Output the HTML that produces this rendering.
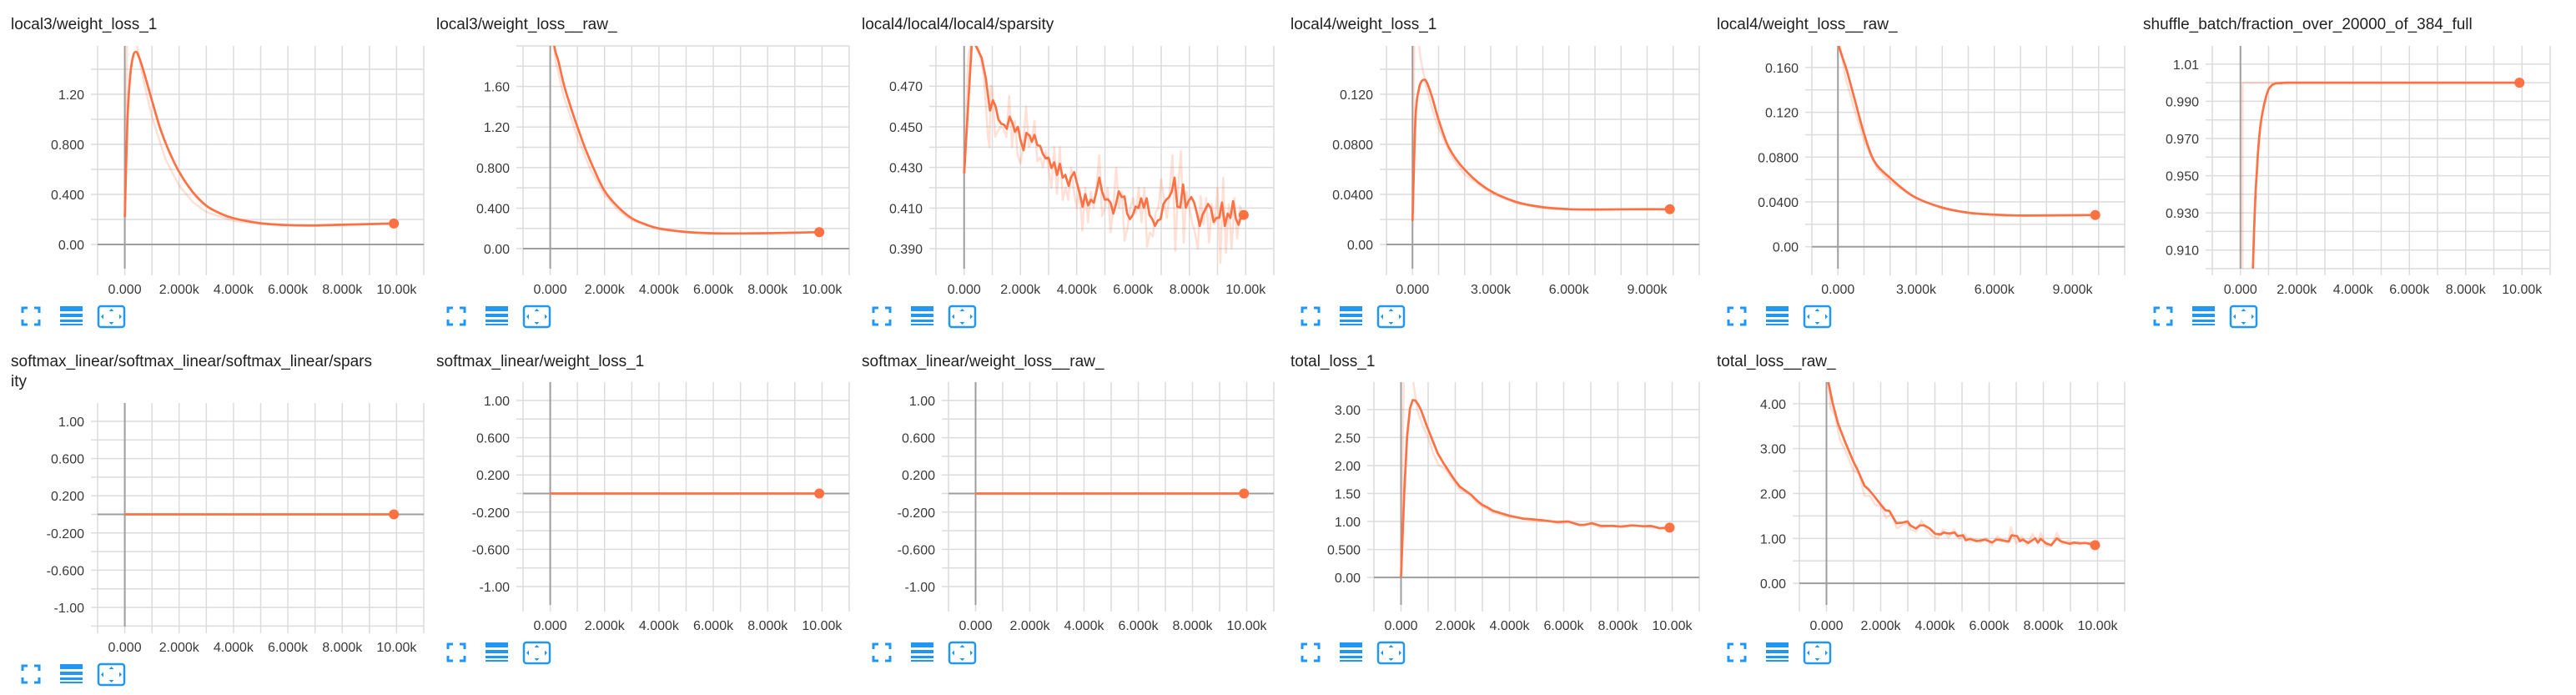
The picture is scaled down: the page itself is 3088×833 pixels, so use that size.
<!DOCTYPE html>
<html><head><meta charset="utf-8">
<style>
html,body{margin:0;padding:0;background:#fff;width:3088px;height:833px;overflow:hidden;}
svg{display:block;font-family:"Liberation Sans",Arial,sans-serif;}
</style></head>
<body>
<svg id="root" width="3088" height="833" viewBox="0 0 3088 833" xmlns="http://www.w3.org/2000/svg"></svg>
<script>
// ---------- data ----------
const xTicks2k = [0,2000,4000,6000,8000,10000];
const xLabels2k = ["0.000","2.000k","4.000k","6.000k","8.000k","10.00k"];
const xTicks3k = [0,3000,6000,9000];
const xLabels3k = ["0.000","3.000k","6.000k","9.000k"];

const aYTicks = [0,0.4,0.8,1.2];
const aYLabels = ["0.00","0.400","0.800","1.20"];
const aSmooth = [[0,0.22],[100,1.0],[200,1.35],[300,1.5],[400,1.54],[500,1.51],[700,1.38],[1000,1.15],[1300,0.93],[1600,0.76],[2000,0.58],[2500,0.42],[3000,0.31],[3500,0.25],[4000,0.21],[5000,0.17],[6000,0.155],[7000,0.152],[8000,0.158],[9000,0.163],[9900,0.168]];
const aRaw = [[0,0.22],[100,1.9],[400,1.65],[700,1.3],[1000,1.02],[1500,0.68],[2000,0.47],[2500,0.34],[3000,0.26],[4000,0.19],[5000,0.165],[6000,0.155],[8000,0.16],[9900,0.17]];

const bYTicks = [0,0.4,0.8,1.2,1.6];
const bYLabels = ["0.00","0.400","0.800","1.20","1.60"];
const bSmooth = [[0,2.6],[150,2.0],[300,1.85],[500,1.62],[750,1.4],[1000,1.2],[1300,0.98],[1600,0.79],[2000,0.57],[2500,0.41],[3000,0.3],[3500,0.24],[4000,0.2],[5000,0.165],[6000,0.152],[7000,0.15],[8000,0.153],[9000,0.158],[9900,0.163]];
const bRaw = [[0,2.6],[200,1.85],[500,1.5],[1000,1.1],[1500,0.77],[2000,0.53],[2500,0.38],[3000,0.28],[4000,0.19],[5000,0.16],[6000,0.15],[8000,0.153],[9900,0.163]];

const cYTicks = [0.39,0.41,0.43,0.45,0.47];
const cYLabels = ["0.390","0.410","0.430","0.450","0.470"];
const cSmooth = [[0,0.427],[280,0.493],[425,0.4896],[620,0.484],[770,0.474],[870,0.463],[920,0.458],[1020,0.463],[1120,0.460],[1220,0.4535],[1320,0.4515],[1420,0.451],[1515,0.449],[1615,0.455],[1710,0.452],[1810,0.4475],[1910,0.450],[2010,0.443],[2110,0.4385],[2210,0.447],[2330,0.4456],[2405,0.4426],[2500,0.446],[2600,0.441],[2700,0.4406],[2800,0.4365],[2900,0.4345],[3000,0.4348],[3100,0.4297],[3200,0.4325],[3300,0.4263],[3400,0.4318],[3500,0.425],[3595,0.4263],[3715,0.4209],[3790,0.425],[3910,0.4277],[4010,0.4222],[4110,0.4168],[4210,0.4107],[4305,0.4168],[4405,0.4113],[4505,0.4141],[4605,0.4127],[4700,0.4182],[4800,0.425],[4900,0.4182],[5000,0.4141],[5100,0.4144],[5200,0.4127],[5300,0.4073],[5395,0.412],[5495,0.4182],[5595,0.4154],[5695,0.4157],[5790,0.4073],[5890,0.4046],[5990,0.4066],[6090,0.4107],[6190,0.41],[6285,0.4148],[6385,0.4102],[6485,0.4148],[6585,0.4066],[6685,0.4046],[6780,0.4012],[6880,0.4039],[6980,0.4046],[7080,0.412],[7180,0.4141],[7280,0.4154],[7375,0.4182],[7475,0.425],[7575,0.4107],[7675,0.4102],[7775,0.4216],[7875,0.4102],[7970,0.4134],[8070,0.4154],[8170,0.4127],[8270,0.4073],[8370,0.4012],[8465,0.4066],[8565,0.4093],[8665,0.412],[8765,0.41],[8865,0.4032],[8960,0.4052],[9060,0.4052],[9160,0.4127],[9260,0.4012],[9360,0.4073],[9455,0.4052],[9555,0.4134],[9655,0.4046],[9750,0.4018],[9850,0.4066],[9930,0.4066]];
const cRaw = [[0,0.427],[150,0.485],[300,0.495],[500,0.49],[700,0.475],[850,0.445],[900,0.44],[950,0.47],[1000,0.47],[1100,0.445],[1200,0.448],[1300,0.45],[1400,0.449],[1500,0.445],[1600,0.465],[1700,0.44],[1800,0.453],[1900,0.436],[2000,0.432],[2100,0.44],[2200,0.46],[2300,0.44],[2400,0.443],[2500,0.453],[2600,0.433],[2700,0.435],[2800,0.43],[2900,0.438],[3000,0.43],[3100,0.42],[3200,0.44],[3300,0.417],[3400,0.44],[3500,0.414],[3600,0.42],[3700,0.414],[3800,0.43],[3900,0.418],[4000,0.41],[4100,0.42],[4200,0.399],[4300,0.42],[4400,0.403],[4500,0.418],[4600,0.41],[4700,0.42],[4800,0.436],[4900,0.406],[5000,0.41],[5100,0.42],[5200,0.398],[5300,0.41],[5400,0.43],[5500,0.41],[5600,0.418],[5700,0.394],[5800,0.4],[5900,0.41],[6000,0.415],[6100,0.407],[6200,0.42],[6300,0.403],[6400,0.42],[6500,0.391],[6600,0.398],[6700,0.396],[6800,0.408],[6900,0.41],[7000,0.424],[7100,0.414],[7200,0.405],[7300,0.418],[7400,0.436],[7500,0.389],[7600,0.42],[7700,0.438],[7800,0.393],[7900,0.418],[8000,0.41],[8100,0.403],[8200,0.398],[8300,0.39],[8400,0.416],[8500,0.402],[8600,0.415],[8700,0.393],[8800,0.412],[8900,0.402],[9000,0.42],[9100,0.383],[9200,0.425],[9300,0.388],[9400,0.412],[9500,0.39],[9600,0.415],[9700,0.395],[9800,0.411],[9930,0.406]];

const dYTicks = [0,0.04,0.08,0.12];
const dYLabels = ["0.00","0.0400","0.0800","0.120"];
const dSmooth = [[0,0.0187],[117,0.102],[245,0.124],[330,0.1298],[436,0.1316],[543,0.1298],[755,0.1176],[1000,0.0998],[1394,0.0776],[2000,0.0598],[2883,0.0442],[3947,0.0342],[5010,0.0298],[6074,0.0282],[7138,0.028],[8202,0.0282],[9872,0.0282]];
const dRaw = [[0,0.019],[80,0.2],[300,0.15],[500,0.128],[800,0.105],[1000,0.093],[1500,0.07],[2000,0.056],[3000,0.041],[4000,0.033],[5000,0.029],[6000,0.028],[9872,0.028]];

const eYTicks = [0,0.04,0.08,0.12,0.16];
const eYLabels = ["0.00","0.0400","0.0800","0.120","0.160"];
const eSmooth = [[0,0.19],[32,0.1794],[330,0.158],[649,0.131],[1000,0.1011],[1394,0.0763],[2000,0.0614],[2883,0.0452],[3947,0.0353],[5010,0.0303],[6074,0.0286],[7138,0.0278],[9872,0.0283]];
const eRaw = [[0,0.19],[300,0.15],[600,0.125],[1000,0.095],[1500,0.07],[2000,0.058],[3000,0.043],[4000,0.034],[5000,0.03],[6000,0.028],[9872,0.028]];

const fYTicks = [0.91,0.93,0.95,0.97,0.99,1.01];
const fYLabels = ["0.910","0.930","0.950","0.970","0.990","1.01"];
const fSmooth = [[0,0.0],[300,0.5],[444,0.90],[480,0.918],[513,0.9325],[545,0.943],[582,0.952],[620,0.962],[661,0.970],[710,0.977],[760,0.982],[810,0.986],[859,0.9893],[930,0.9935],[1007,0.9967],[1120,0.9988],[1254,0.9997],[1649,1.0],[9911,1.0]];
const fRaw = [[0,0.0],[70,0.0],[75,1.0],[9911,1.0]];

const zYTicks = [-1,-0.6,-0.2,0.2,0.6,1.0];
const zYLabels = ["-1.00","-0.600","-0.200","0.200","0.600","1.00"];
const gSmooth = [[0,0],[9900,0]];
const hSmooth = [[0,0],[9900,0]];
const iSmooth = [[0,0],[9900,0]];

const jYTicks = [0,0.5,1,1.5,2,2.5,3];
const jYLabels = ["0.00","0.500","1.00","1.50","2.00","2.50","3.00"];
const jSmooth = [[0,0.01],[123,1.57],[225,2.52],[328,3.02],[430,3.17],[532,3.16],[635,3.09],[737,2.99],[942,2.72],[1146,2.47],[1351,2.22],[1556,2.05],[1760,1.9],[1965,1.75],[2170,1.62],[2375,1.55],[2579,1.48],[2784,1.38],[2989,1.30],[3194,1.25],[3398,1.19],[3603,1.16],[3808,1.13],[4012,1.10],[4217,1.08],[4524,1.05],[4831,1.04],[5241,1.02],[5752,0.99],[6162,1.0],[6571,0.94],[6776,0.94],[7031,0.97],[7390,0.92],[7799,0.92],[8106,0.91],[8516,0.93],[8925,0.915],[9232,0.92],[9539,0.88],[9908,0.89]];
const jRaw = [[0,0.01],[100,3.6],[450,3.5],[600,3.0],[800,2.7],[1000,2.5],[1200,2.2],[1400,2.0],[1600,1.95],[1800,1.82],[2000,1.68],[2200,1.55],[2400,1.52],[2600,1.45],[2800,1.33],[3000,1.27],[3200,1.22],[3400,1.15],[3600,1.14],[3800,1.1],[4000,1.08],[4300,1.07],[4600,1.04],[5000,1.0],[5400,1.01],[5800,0.97],[6200,0.99],[6600,0.93],[7000,0.96],[7400,0.89],[7800,0.93],[8200,0.9],[8600,0.93],[9000,0.9],[9400,0.89],[9700,0.87],[9908,0.88]];

const kYTicks = [0,1,2,3,4];
const kYLabels = ["0.00","1.00","2.00","3.00","4.00"];
const kSmooth = [[72,4.48],[225,4.02],[430,3.55],[686,3.15],[993,2.71],[1146,2.53],[1402,2.17],[1556,2.09],[1760,1.94],[1965,1.78],[2170,1.63],[2323,1.61],[2579,1.34],[2784,1.35],[2989,1.38],[3091,1.29],[3296,1.22],[3449,1.29],[3603,1.29],[3808,1.22],[4012,1.10],[4217,1.09],[4319,1.13],[4524,1.11],[4729,1.13],[4831,1.05],[5036,1.07],[5138,0.96],[5292,0.99],[5548,0.94],[5855,0.975],[6110,0.91],[6264,0.975],[6469,0.96],[6725,0.93],[6827,1.07],[7031,1.05],[7134,0.94],[7236,0.975],[7441,0.9],[7697,1.0],[7799,0.91],[7902,0.99],[8106,0.89],[8291,0.85],[8495,1.0],[8669,0.93],[8976,0.88],[9130,0.91],[9335,0.89],[9539,0.9],[9744,0.875],[9908,0.85]];
const kRaw = [[50,4.6],[150,3.9],[300,3.75],[500,3.2],[700,2.95],[1000,2.5],[1200,2.45],[1400,1.95],[1600,1.95],[1800,1.75],[2000,1.72],[2200,1.45],[2400,1.55],[2600,1.22],[2800,1.3],[3000,1.35],[3100,1.2],[3300,1.15],[3500,1.4],[3700,1.18],[3900,1.05],[4100,1.0],[4300,1.2],[4500,1.02],[4700,1.2],[4900,0.98],[5100,1.1],[5300,0.92],[5500,0.98],[5700,0.92],[5900,1.0],[6100,0.85],[6300,1.05],[6500,0.95],[6700,0.9],[6800,1.25],[7000,0.88],[7200,1.05],[7400,0.85],[7600,1.1],[7800,0.88],[7900,1.12],[8100,0.82],[8300,0.84],[8500,1.12],[8700,0.88],[8900,0.95],[9100,0.86],[9300,0.93],[9500,0.87],[9700,0.92],[9908,0.85]];

// ---------- chart layout ----------
const charts = [
 {name:'local3-weight-loss-1-chart', title:['local3/weight_loss_1'], card:13, tY:35, L:117,R:508,T:55,B:322, yd:[-0.193,1.587], yStep:0.2, yT:aYTicks, yL:aYLabels, xT:xTicks2k, xL:xLabels2k, smooth:aSmooth, raw:aRaw, curve:true},
 {name:'local3-weight-loss-raw-chart', title:['local3/weight_loss__raw_'], card:523, tY:35, L:627,R:1018,T:55,B:322, yd:[-0.197,2.0], yStep:0.2, yT:bYTicks, yL:bYLabels, xT:xTicks2k, xL:xLabels2k, smooth:bSmooth, raw:bRaw, curve:true},
 {name:'local4-sparsity-chart', title:['local4/local4/local4/sparsity'], card:1033, tY:35, L:1122,R:1527,T:55,B:322, yd:[0.3802,0.4898], yStep:0.01, yT:cYTicks, yL:cYLabels, xT:xTicks2k, xL:xLabels2k, smooth:cSmooth, raw:cRaw, curve:false},
 {name:'local4-weight-loss-1-chart', title:['local4/weight_loss_1'], card:1547, tY:35, L:1662,R:2037,T:55,B:322, yd:[-0.0193,0.1587], yStep:0.02, yT:dYTicks, yL:dYLabels, xT:xTicks3k, xL:xLabels3k, smooth:dSmooth, raw:dRaw, curve:true},
 {name:'local4-weight-loss-raw-chart', title:['local4/weight_loss__raw_'], card:2058, tY:35, L:2172,R:2547,T:55,B:322, yd:[-0.0196,0.1793], yStep:0.02, yT:eYTicks, yL:eYLabels, xT:xTicks3k, xL:xLabels3k, smooth:eSmooth, raw:eRaw, curve:true},
 {name:'shuffle-batch-fraction-chart', title:['shuffle_batch/fraction_over_20000_of_384_full'], card:2569, tY:35, L:2652,R:3057,T:55,B:322, yd:[0.9,1.0198], yStep:0.01, yT:fYTicks, yL:fYLabels, xT:xTicks2k, xL:xLabels2k, smooth:fSmooth, raw:fRaw, curve:false},
 {name:'softmax-sparsity-chart', title:['softmax_linear/softmax_linear/softmax_linear/spars','ity'], card:13, tY:439, L:117,R:508,T:483,B:751, yd:[-1.206,1.197], yStep:0.2, yT:zYTicks, yL:zYLabels, xT:xTicks2k, xL:xLabels2k, smooth:gSmooth, raw:null, curve:false},
 {name:'softmax-weight-loss-1-chart', title:['softmax_linear/weight_loss_1'], card:523, tY:439, L:627,R:1018,T:458,B:725, yd:[-1.197,1.197], yStep:0.2, yT:zYTicks, yL:zYLabels, xT:xTicks2k, xL:xLabels2k, smooth:hSmooth, raw:null, curve:false},
 {name:'softmax-weight-loss-raw-chart', title:['softmax_linear/weight_loss__raw_'], card:1033, tY:439, L:1137,R:1527,T:458,B:725, yd:[-1.197,1.197], yStep:0.2, yT:zYTicks, yL:zYLabels, xT:xTicks2k, xL:xLabels2k, smooth:iSmooth, raw:null, curve:false},
 {name:'total-loss-1-chart', title:['total_loss_1'], card:1547, tY:439, L:1647,R:2037,T:458,B:725, yd:[-0.49,3.49], yStep:0.5, yT:jYTicks, yL:jYLabels, xT:xTicks2k, xL:xLabels2k, smooth:jSmooth, raw:jRaw, curve:false},
 {name:'total-loss-raw-chart', title:['total_loss__raw_'], card:2058, tY:439, L:2157,R:2547,T:458,B:725, yd:[-0.48,4.48], yStep:0.5, yT:kYTicks, yL:kYLabels, xT:xTicks2k, xL:xLabels2k, smooth:kSmooth, raw:kRaw, curve:false}
];

const NS = 'http://www.w3.org/2000/svg';
const root = document.getElementById('root');
function mk(tag, attrs, parent){
  const e = document.createElementNS(NS, tag);
  for (const k in attrs) e.setAttribute(k, attrs[k]);
  (parent||root).appendChild(e);
  return e;
}
function curvePath(pts){
  let d = 'M' + pts[0][0].toFixed(1) + ',' + pts[0][1].toFixed(1);
  for (let i = 0; i < pts.length-1; i++) {
    const p0 = pts[Math.max(0,i-1)], p1 = pts[i], p2 = pts[i+1], p3 = pts[Math.min(pts.length-1,i+2)];
    const c1x = p1[0] + (p2[0]-p0[0])/6, c1y = p1[1] + (p2[1]-p0[1])/6;
    const c2x = p2[0] - (p3[0]-p1[0])/6, c2y = p2[1] - (p3[1]-p1[1])/6;
    d += 'C' + c1x.toFixed(1)+','+c1y.toFixed(1)+' '+c2x.toFixed(1)+','+c2y.toFixed(1)+' '+p2[0].toFixed(1)+','+p2[1].toFixed(1);
  }
  return d;
}
function linePath(pts){
  return pts.map((p,i) => (i?'L':'M') + p[0].toFixed(1) + ',' + p[1].toFixed(1)).join('');
}
const defs = mk('defs', {});

charts.forEach((c, ci) => {
  const g = mk('g', {});
  
  
  const xd = [-1000, 11000];
  const sx = v => c.L + (v - xd[0]) / (xd[1] - xd[0]) * (c.R - c.L);
  const sy = v => c.B - (v - c.yd[0]) / (c.yd[1] - c.yd[0]) * (c.B - c.T);

  c.title.forEach((line, li) => {
    const t = mk('text', {x:c.card, y:c.tY + li*24, 'font-size':19, fill:'#212121'}, g);
    
    
    t.textContent = line;
  });

  const grid = mk('g', {}, g);
  
  
  for (let k = -1; k <= 11; k++) {
    const x = sx(k*1000);
    mk('line', {x1:x, x2:x, y1:c.T, y2:c.B+8, stroke:'#dcdcdc', 'stroke-width':1.5}, grid);
  }
  const k0 = Math.ceil(c.yd[0]/c.yStep - 1e-6), k1 = Math.floor(c.yd[1]/c.yStep + 1e-6);
  for (let k = k0; k <= k1; k++) {
    const y = sy(k*c.yStep);
    mk('line', {x1:c.L-8, x2:c.R, y1:y, y2:y, stroke:'#dcdcdc', 'stroke-width':1.5}, grid);
  }
  const xa = mk('line', {x1:sx(0), x2:sx(0), y1:c.T, y2:c.B, stroke:'#9e9e9e', 'stroke-width':2}, g);
  
  
  if (c.yd[0] < 0 && c.yd[1] > 0) {
    const ya = mk('line', {x1:c.L, x2:c.R, y1:sy(0), y2:sy(0), stroke:'#9e9e9e', 'stroke-width':2}, g);
    
    
  }

  c.yT.forEach((v, i) => {
    const t = mk('text', {x:c.L-16, y:sy(v)+6, 'font-size':16, fill:'#3a3a3a', 'text-anchor':'end'}, g);
    
    
    t.textContent = c.yL[i];
  });
  c.xT.forEach((v, i) => {
    const t = mk('text', {x:sx(v), y:c.B+30, 'font-size':16, fill:'#3a3a3a', 'text-anchor':'middle'}, g);
    
    
    t.textContent = c.xL[i];
  });

  const cp = mk('clipPath', {id:'clip'+ci}, defs);
  mk('rect', {x:c.L, y:c.T, width:c.R-c.L, height:c.B-c.T}, cp);
  // clamp to slightly beyond plot area so offscreen values don't inflate the page bounds
  const cl = y => Math.max(c.T - 50, Math.min(c.B + 50, y));
  const toXY = arr => arr.map(p => [sx(p[0]), cl(sy(p[1]))]);
  if (c.raw) {
    const rp = toXY(c.raw);
    const r = mk('path', {d:linePath(rp), fill:'none', stroke:'#ff7043', 'stroke-opacity':0.22, 'stroke-width':2.5, 'stroke-linejoin':'round', 'clip-path':'url(#clip'+ci+')'}, g);
    
    
  }
  const spts = toXY(c.smooth);
  const s = mk('path', {d:(c.curve ? curvePath(spts) : linePath(spts)), fill:'none', stroke:'#ff7043', 'stroke-width':2.7, 'stroke-linejoin':'round', 'clip-path':'url(#clip'+ci+')'}, g);
  
  
  const last = c.smooth[c.smooth.length-1];
  const d = mk('circle', {cx:sx(last[0]), cy:sy(last[1]), r:6, fill:'#ff7043'}, g);
  
  

  const ox = c.card + 14, cy = c.B + 57;
  const blue = '#2196f3';
  const fs = mk('g', {}, g);
  
  
  const a = 6, x0 = ox, x1 = ox+20, y0 = cy-10, y1 = cy+10;
  mk('path', {d:`M${x0} ${y0+a}V${y0}H${x0+a} M${x1-a} ${y0}H${x1}V${y0+a} M${x1} ${y1-a}V${y1}H${x1-a} M${x0+a} ${y1}H${x0}V${y1-a}`, fill:'none', stroke:blue, 'stroke-width':3}, fs);
  const ls = mk('g', {}, g);
  
  
  mk('rect', {x:ox+45, y:cy-12, width:27, height:6, fill:blue}, ls);
  mk('rect', {x:ox+45, y:cy-3, width:27, height:4, fill:blue}, ls);
  mk('rect', {x:ox+45, y:cy+4, width:27, height:3, fill:blue}, ls);
  mk('rect', {x:ox+45, y:cy+9, width:27, height:2, fill:blue}, ls);
  const fit = mk('g', {}, g);
  
  
  const bx = ox+91, by = cy-12, bw = 31, bh = 25;
  mk('rect', {x:bx, y:by, width:bw, height:bh, rx:3, fill:'none', stroke:blue, 'stroke-width':2.5}, fit);
  const mx = bx+bw/2, my = by+bh/2;
  mk('path', {d:`M${mx-3} ${by+6}L${mx} ${by+3}L${mx+3} ${by+6}Z M${mx-3} ${by+bh-6}L${mx} ${by+bh-3}L${mx+3} ${by+bh-6}Z M${bx+6} ${my-3}L${bx+3} ${my}L${bx+6} ${my+3}Z M${bx+bw-6} ${my-3}L${bx+bw-3} ${my}L${bx+bw-6} ${my+3}Z`, fill:blue}, fit);
});
</script>
</body></html>
